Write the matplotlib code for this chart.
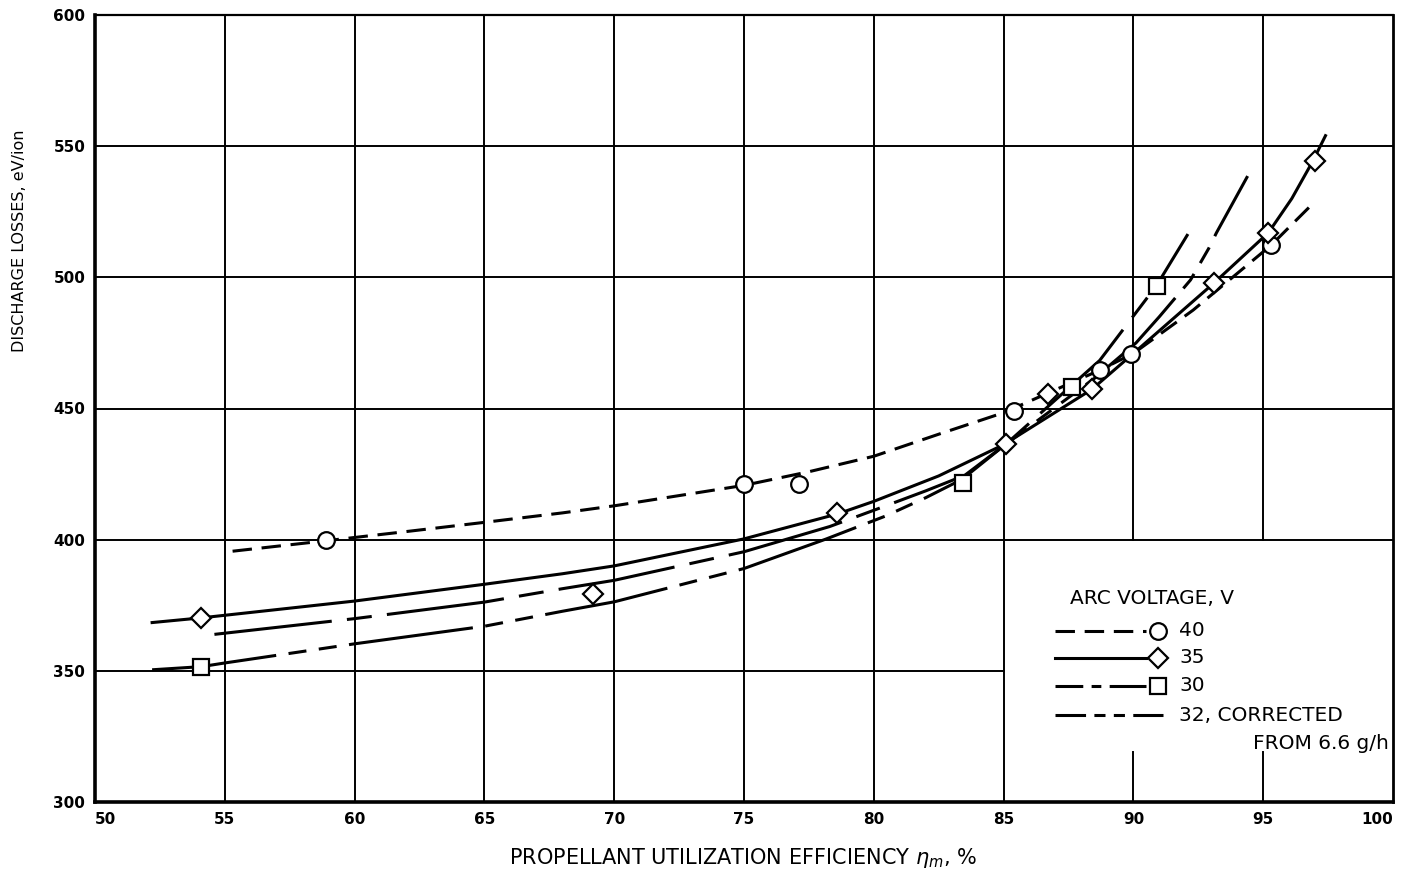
import matplotlib
matplotlib.use("Agg")
import matplotlib.pyplot as plt

# measured points (propellant utilization %, discharge losses eV/ion)
v40_x = [58.9, 75.0, 77.1, 85.4, 88.7, 89.9, 95.3]
v40_y = [399.7, 421.1, 421.4, 449.0, 464.6, 470.9, 512.2]

v35_x = [54.1, 69.2, 78.6, 85.1, 86.7, 88.4, 93.1, 95.2, 97.0]
v35_y = [370.2, 379.2, 410.1, 436.4, 455.7, 457.3, 497.8, 517.0, 544.3]

v30_x = [54.1, 83.45, 87.65, 90.9]
v30_y = [351.3, 421.6, 458.2, 496.6]

# faired curves
c40_x = [55.3, 59.0, 62.0, 65.0, 68.0, 70.0, 75.0, 77.5, 80.0, 82.5, 85.0, 88.7, 90.0, 92.3, 95.3, 96.8]
c40_y = [395.6, 399.7, 403.1, 406.6, 410.2, 412.9, 420.7, 425.9, 431.8, 440.2, 448.4, 464.6, 471.0, 487.5, 512.2, 527.0]

c35_x = [52.2, 54.1, 60.0, 65.0, 68.0, 70.0, 75.0, 78.6, 80.0, 82.5, 85.0, 88.4, 90.0, 93.1, 95.2, 96.1, 96.9, 97.4]
c35_y = [368.4, 370.2, 376.6, 383.0, 387.0, 390.0, 400.3, 409.8, 414.6, 424.3, 436.2, 457.3, 471.0, 497.8, 517.0, 530.0, 544.1, 554.0]

c30_x = [54.6, 60.0, 65.0, 68.0, 70.0, 75.0, 76.0, 78.3, 80.0, 82.0, 83.5, 85.1, 87.7, 88.7, 90.9, 92.1]
c30_y = [363.9, 369.9, 376.2, 381.3, 384.5, 395.4, 398.3, 405.0, 411.2, 418.6, 424.5, 436.5, 459.5, 468.3, 497.0, 516.5]

c32_x = [52.2, 54.1, 55.0, 60.0, 65.0, 68.0, 70.0, 75.0, 78.15, 80.45, 82.0, 83.4, 85.1, 87.0, 88.5, 90.1, 91.0, 92.2, 92.9, 93.2, 94.4]
c32_y = [350.4, 351.6, 353.0, 360.3, 367.0, 372.7, 376.3, 389.0, 400.2, 409.0, 416.0, 423.0, 436.5, 450.5, 461.5, 475.0, 485.0, 499.0, 511.0, 517.0, 538.6]

x_ticks = list(range(50, 101, 5))
y_ticks = list(range(300, 601, 50))

plt.rcParams['lines.scale_dashes'] = False

dash40 = (0, (14, 7))
dash35 = '-'
dash30 = (0, (85, 11, 18, 11))
dash32 = (0, (90, 9, 13, 9, 13, 9))

fig = plt.figure(figsize=(14.16, 8.74), dpi=100)
ax = fig.add_axes([95 / 1416, 1 - 802 / 874, 1298 / 1416, 787 / 874])
ax.set_xlim(50, 100)
ax.set_ylim(300, 600)

# grid, with the legend corner left open
for gx in x_ticks[1:-1]:
    if gx in (90, 95):
        ax.plot([gx, gx], [400, 600], color='black', lw=1.4, zorder=1)
        ax.plot([gx, gx], [300, 319], color='black', lw=1.4, zorder=1)
    else:
        ax.plot([gx, gx], [300, 600], color='black', lw=1.4, zorder=1)
for gy in y_ticks[1:-1]:
    x_end = 85 if gy == 350 else 100
    ax.plot([50, x_end], [gy, gy], color='black', lw=1.4, zorder=1)

lw = 2.2
ax.plot(c40_x, c40_y, color='black', lw=lw, linestyle=dash40, zorder=3)
ax.plot(c35_x, c35_y, color='black', lw=lw, linestyle=dash35, zorder=3)
ax.plot(c30_x, c30_y, color='black', lw=lw, linestyle=dash30, zorder=3)
ax.plot(c32_x, c32_y, color='black', lw=lw, linestyle=dash32, zorder=3)

mk = dict(color='none', markerfacecolor='white', markeredgecolor='black',
          markeredgewidth=1.6, zorder=4)
ax.plot(v40_x, v40_y, marker='o', markersize=12, **mk)
ax.plot(v35_x, v35_y, marker='D', markersize=10, **mk)
ax.plot(v30_x, v30_y, marker='s', markersize=11, **mk)

# legend drawn by hand, like the original
ax.text(87.55, 377.6, 'ARC VOLTAGE, V', fontsize=14.5, va='center', ha='left')
rows = [('40', dash40, 'o', 12, 365.2),
        ('35', dash35, 'D', 10, 354.9),
        ('30', (0, (20, 6, 7, 6, 40, 6)), 's', 11, 344.3)]
for label, ls, m, ms, ry in rows:
    ax.plot([86.97, 90.48], [ry, ry], color='black', lw=lw, linestyle=ls, zorder=3)
    ax.plot([90.95], [ry], marker=m, markersize=ms, **mk)
    ax.text(91.76, ry, label, fontsize=14.5, va='center', ha='left')
ax.plot([86.97, 91.14], [333.1, 333.1], color='black', lw=lw,
        linestyle=(0, (22, 6, 8, 6, 8, 6)), zorder=3)
ax.text(91.76, 333.1, '32, CORRECTED', fontsize=14.5, va='center', ha='left')
ax.text(99.86, 322.2, 'FROM 6.6 g/h', fontsize=14.5, va='center', ha='right')

ax.set_xticks(x_ticks)
ax.set_yticks(y_ticks)
ax.set_xticklabels([str(v) for v in x_ticks], fontsize=11, fontweight='bold')
ax.set_yticklabels([str(v) for v in y_ticks], fontsize=11, fontweight='bold')
ax.tick_params(length=0, pad=7)
xl = ax.get_xticklabels()
xl[0].set_horizontalalignment('left')
xl[-1].set_horizontalalignment('right')

for side, w in [('left', 2.6), ('bottom', 2.6), ('top', 1.6), ('right', 2.0)]:
    ax.spines[side].set_linewidth(w)

fig.text(743 / 1416, 1 - 858 / 874, r'PROPELLANT UTILIZATION EFFICIENCY $\eta_m$, %',
         ha='center', va='center', fontsize=15)
fig.text(20 / 1416, 1 - 241 / 874, 'DISCHARGE LOSSES, eV/ion', rotation=90,
         ha='center', va='center', fontsize=11.5)

fig.savefig('out.png', dpi=100)
plt.close(fig)
